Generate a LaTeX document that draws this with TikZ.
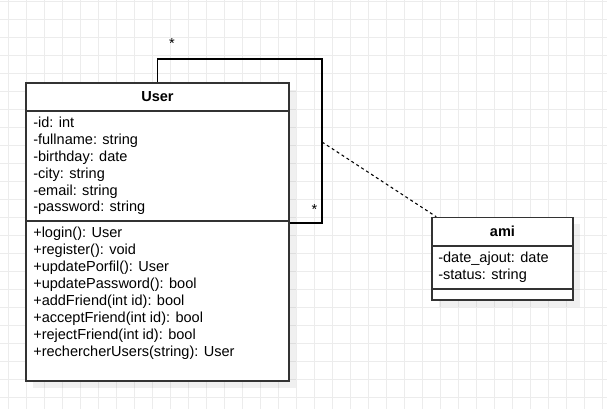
\documentclass[tikz,border=0pt]{standalone}
\usepackage{fontspec}
\setmainfont{Liberation Sans}
\usetikzlibrary{calc}
\definecolor{gridc}{RGB}{236,236,236}
\definecolor{boxc}{RGB}{51,51,51}
\begin{document}
\begin{tikzpicture}[x=0.75pt,y=-0.75pt,
  font=\fontsize{10.9}{13}\selectfont,
  gridline/.style={draw=gridc,line width=0.9pt},
  classbox/.style={draw=boxc,fill=white,line width=1.1pt,inner sep=0pt,rectangle},
  shadowbox/.style={fill=black,fill opacity=0.06,draw=none,inner sep=0pt,rectangle},
  sepline/.style={draw=boxc,line width=1.1pt},
  member/.style={anchor=base west,inner sep=0pt},
  title/.style={anchor=base,inner sep=0pt,font=\fontsize{10.9}{13}\selectfont\bfseries},
  mult/.style={anchor=base,inner sep=0pt},
  conn/.style={draw=black,line width=0.8pt},
  assocline/.style={draw=black,line width=0.8pt,dash pattern=on 2.2pt off 2.2pt}]
\useasboundingbox (0,0) rectangle (607,409);
\fill[white] (0,0) rectangle (607,409);
% grid
\foreach \i in {0,...,33} \draw[gridline] (8.7+18*\i,0) -- (8.7+18*\i,409);
\foreach \j in {0,...,22} \draw[gridline] (0,1.7+18*\j) -- (607,1.7+18*\j);
% shadows
\node[shadowbox,minimum width=197.25pt,minimum height=223.5pt] (usershadow) at (164.5,239) {};
\node[shadowbox,minimum width=105.75pt,minimum height=61.9pt] (amishadow) at (509.5,265.75) {};
% User class
\node[classbox,minimum width=197.25pt,minimum height=223.5pt] (user) at (157.5,232) {};
\draw[sepline] (user.west |- 0,111) -- (user.east |- 0,111);
\draw[sepline] (user.west |- 0,221) -- (user.east |- 0,221);
\node[title] (usertitle) at (157.5,102) {User};
\foreach \t [count=\i from 0] in {-id: int,-fullname: string,-birthday: date,-city: string,-email: string,-password: string}
  \node[member] (ua\i) at (33,128+16.8*\i) {\t};
\foreach \t [count=\i from 0] in {+login(): User,+register(): void,+updatePorfil(): User,+updatePassword(): bool,+addFriend(int id): bool,+acceptFriend(int id): bool,+rejectFriend(int id): bool,+rechercherUsers(string): User}
  \node[member] (um\i) at (33,238+16.86*\i) {\t};
% ami class
\node[classbox,minimum width=105.75pt,minimum height=61.9pt] (ami) at (502.5,258.75) {};
\draw[sepline] (ami.west |- 0,246) -- (ami.east |- 0,246);
\draw[sepline] (ami.west |- 0,289) -- (ami.east |- 0,289);
\node[title] (amititle) at (502.5,237) {ami};
\node[member] (aa0) at (438,263) {-date\_ajout: date};
\node[member] (aa1) at (438,280) {-status: string};
% self association
\coordinate (loopa) at (157.5,59);
\coordinate (loopb) at (322,59);
\coordinate (loopc) at (322,223);
\coordinate (assoc) at (322,142);
\draw[conn] (user.north) -- (loopa) -- (loopb) -- (loopc) -- (user.east |- loopc);
\node[mult] (m1) at (172,48.5) {*};
\node[mult] (m2) at (314.5,214.5) {*};
% association class link
\draw[assocline] (assoc) -- ($(ami.north west)+(5,0)$);
\end{tikzpicture}
\end{document}
